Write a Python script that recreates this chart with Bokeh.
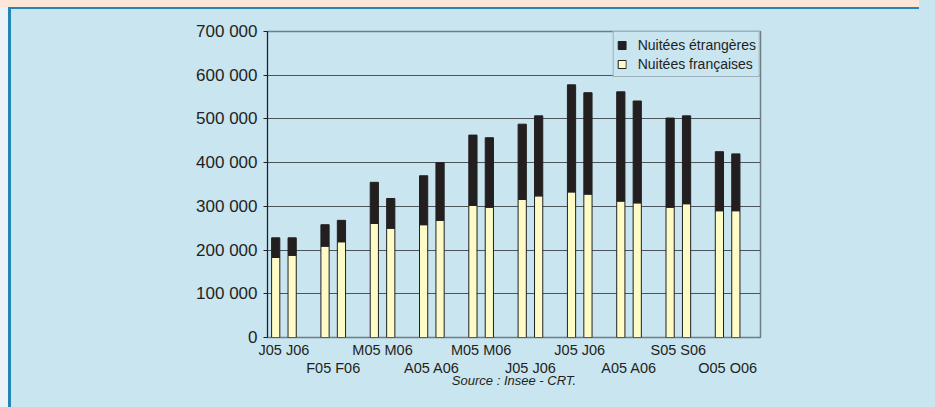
from bokeh.plotting import figure
from bokeh.models import (ColumnDataSource, Range1d, FixedTicker, LinearAxis, Legend,
                          LegendItem)
from bokeh.embed import file_html
from bokeh.resources import INLINE

# ---- data ----
group_labels = ["J05 J06", "F05 F06", "M05 M06", "A05 A06", "M05 M06",
                "J05 J06", "J05 J06", "A05 A06", "S05 S06", "O05 O06"]
fr_2005 = [183000, 209000, 261000, 258000, 302000, 316000, 333000, 312000, 298000, 290000]
etr_2005 = [45000, 49000, 94000, 112000, 161000, 172000, 245000, 250000, 204000, 135000]
fr_2006 = [188000, 219000, 250000, 268000, 298000, 324000, 328000, 308000, 306000, 290000]
etr_2006 = [40000, 49000, 68000, 132000, 159000, 183000, 232000, 233000, 201000, 130000]
y_ticks = [0, 100000, 200000, 300000, 400000, 500000, 600000, 700000]
y_tick_labels = ["0", "100 000", "200 000", "300 000", "400 000", "500 000", "600 000", "700 000"]
legend_labels = ["Nuitées étrangères", "Nuitées françaises"]
source_note = "Source : Insee - CRT."

# ---- styles ----
BG = "#c9e5f0"
PEACH = "#fde6d8"
EDGE = "#2385b8"
LEFTSTRIP = "#eaf4f8"
YELLOW = "#fffbc6"
DARK = "#231f20"
GRID = "#4b555b"
OUTLINE = "#6f7d85"
FONT = "Liberation Sans"
W, H = 919, 391

x, fr, etr = [], [], []
for i in range(len(group_labels)):
    x += [3 * i + 0.5, 3 * i + 1.5]
    fr += [fr_2005[i], fr_2006[i]]
    etr += [etr_2005[i], etr_2006[i]]
src = ColumnDataSource(dict(x=x, fr=fr, etr=etr))

p = figure(width=W, height=H, output_backend="svg", toolbar_location=None,
           x_range=Range1d(0, 30), y_range=Range1d(0, 700000),
           min_border_left=267, min_border_right=159, min_border_top=31, min_border_bottom=54)
p.styles = {
    "box-shadow": (f"11px 16px 0 0 {BG}, 16px 16px 0 0 {BG}, 8px 16px 0 0 {EDGE}, "
                   f"0 16px 0 0 {LEFTSTRIP}, 16px 0 0 0 {BG}"),
    "background": (f"linear-gradient({PEACH},{PEACH}) 0 0 / 100% 7px no-repeat, "
                   f"linear-gradient({EDGE},{EDGE}) 8px 7px / 100% 2px no-repeat, "
                   f"linear-gradient({EDGE},{EDGE}) 8px 7px / 3px 100% no-repeat, "
                   f"linear-gradient({LEFTSTRIP},{LEFTSTRIP}) 0 7px / 8px 100% no-repeat, "
                   f"{BG}"),
}
p.background_fill_color = BG
p.border_fill_alpha = 0
p.outline_line_color = OUTLINE
p.outline_line_width = 1.5

rs = p.vbar_stack(["fr", "etr"], x="x", width=0.5, source=src,
                  fill_color=[YELLOW, DARK], line_color=DARK, line_width=1)

# y axis
p.yaxis.ticker = FixedTicker(ticks=y_ticks)
p.yaxis.major_label_overrides = dict(zip(y_ticks, y_tick_labels))
p.yaxis.axis_line_color = DARK
p.yaxis.major_tick_line_color = DARK
p.yaxis.major_tick_out = 4
p.yaxis.major_tick_in = 0
p.yaxis.minor_tick_line_color = None
p.yaxis.major_label_standoff = 6
p.yaxis.major_label_text_font = FONT
p.yaxis.major_label_text_font_size = "17px"
p.yaxis.major_label_text_color = DARK

p.ygrid.ticker = FixedTicker(ticks=y_ticks[1:-1])
p.ygrid.grid_line_color = GRID
p.xgrid.visible = False

# x axes (staggered labels)
row1 = [3 * i + 1 for i in range(0, len(group_labels), 2)]
row2 = [3 * i + 1 for i in range(1, len(group_labels), 2)]
ax1 = p.xaxis[0]
ax1.ticker = FixedTicker(ticks=row1)
ax1.major_label_overrides = {3 * i + 1: group_labels[i] for i in range(0, len(group_labels), 2)}
ax2 = LinearAxis(ticker=FixedTicker(ticks=row2),
                 major_label_overrides={3 * i + 1: group_labels[i] for i in range(1, len(group_labels), 2)},
                 axis_label=source_note)
p.add_layout(ax2, "below")
for ax in (ax1, ax2):
    ax.axis_line_color = None
    ax.major_tick_line_color = None
    ax.major_tick_out = 0
    ax.major_tick_in = 0
    ax.minor_tick_line_color = None
    ax.major_label_text_font = FONT
    ax.major_label_text_font_size = "14.5px"
    ax.major_label_text_color = DARK
ax1.major_label_standoff = 4
ax2.major_label_standoff = -1
ax2.axis_label_standoff = -6
ax2.axis_label_text_font = FONT
ax2.axis_label_text_font_size = "13px"
ax2.axis_label_text_font_style = "italic"
ax2.axis_label_text_color = DARK

legend = Legend(items=[LegendItem(label=legend_labels[0], renderers=[rs[1]]),
                       LegendItem(label=legend_labels[1], renderers=[rs[0]])],
                location="top_right", margin=0, padding=3, spacing=0,
                glyph_width=10, glyph_height=10, label_height=19, label_standoff=11,
                label_text_font=FONT, label_text_font_size="14px", label_text_color=DARK,
                border_line_color=OUTLINE, border_line_width=1.5,
                background_fill_color=BG, background_fill_alpha=1)
p.add_layout(legend)

open("out.html", "w").write(file_html(p, INLINE))
